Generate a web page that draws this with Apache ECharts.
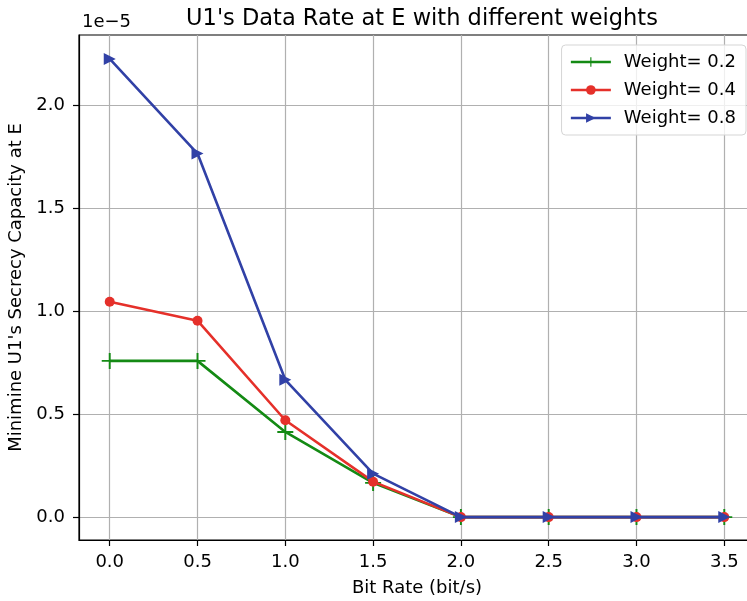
<!DOCTYPE html>
<html>
<head>
<meta charset="utf-8">
<script src="https://cdn.jsdelivr.net/npm/echarts@6/dist/echarts.min.js"></script>
<style>html,body{margin:0;padding:0;background:#fff;}#c{width:747px;height:601px;}</style>
</head>
<body>
<div id="c"></div>
<script>
// Data (y values in units of 1e-5)
const bitRates = [0.0, 0.5, 1.0, 1.5, 2.0, 2.5, 3.0, 3.5];
const weight02 = [0.758, 0.758, 0.413, 0.166, 0, 0, 0, 0];
const weight04 = [1.045, 0.953, 0.470, 0.172, 0, 0, 0, 0];
const weight08 = [2.223, 1.764, 0.666, 0.211, 0, 0, 0, 0];
const xTicks = [0.0, 0.5, 1.0, 1.5, 2.0, 2.5, 3.0, 3.5];
const yTicks = [0.0, 0.5, 1.0, 1.5, 2.0];
const seriesNames = ['Weight= 0.2', 'Weight= 0.4', 'Weight= 0.8'];

const FONT = 'DejaVu Sans';
const chart = echarts.init(document.getElementById('c'), null, {renderer: 'canvas'});
const pair = (ys) => bitRates.map((x, i) => [x, ys[i]]);
const plusPath = 'path://M0,4.4 H10 V5.6 H0 Z M4.4,0 H5.6 V10 H4.4 Z';

chart.setOption({
  animation: false,
  backgroundColor: '#fff',
  title: {
    text: "U1's Data Rate at E with different weights",
    left: 417, top: 3, textAlign: 'center',
    textStyle: {fontFamily: FONT, fontSize: 22.5, fontWeight: 'normal', color: '#000'}
  },
  graphic: [{
    type: 'text', left: 82, top: 13,
    style: {text: '1e\u22125', font: '18px "DejaVu Sans"', fill: '#000'}
  }],
  legend: {
    orient: 'vertical', right: 1, top: 45,
    data: seriesNames,
    itemWidth: 40, itemHeight: 12, itemGap: 10,
    padding: [8, 10, 8, 8],
    borderColor: '#d5d5d5', borderWidth: 1, borderRadius: 4,
    backgroundColor: 'rgba(255,255,255,0.8)',
    lineStyle: {width: 2.6},
    textStyle: {fontFamily: FONT, fontSize: 18, color: '#000', padding: [0, 0, 0, 8]}
  },
  grid: {left: 79, top: 35, width: 676, height: 505, containLabel: false, outerBoundsMode: 'none',
    show: true, borderColor: '#000', borderWidth: 1.2, backgroundColor: 'transparent'},
  xAxis: {
    type: 'value', min: -0.175, max: 3.675,
    name: 'Bit Rate (bit/s)', nameLocation: 'middle', nameGap: 39,
    nameTextStyle: {fontFamily: FONT, fontSize: 18, color: '#000'},
    axisLine: {show: true, onZero: false, lineStyle: {color: '#000', width: 1.2}},
    axisTick: {show: true, length: 6, lineStyle: {color: '#000', width: 1.2}, customValues: xTicks},
    axisLabel: {customValues: xTicks, margin: 13, fontFamily: FONT, fontSize: 18, color: '#000',
      formatter: v => v.toFixed(1)},
    splitLine: {show: true, lineStyle: {color: '#b0b0b0', width: 1.2}}
  },
  yAxis: {
    type: 'value', min: -0.111, max: 2.339,
    name: "Minimine U1's Secrecy Capacity at E", nameLocation: 'middle', nameGap: 53,
    nameTextStyle: {fontFamily: FONT, fontSize: 18, color: '#000'},
    axisLine: {show: true, onZero: false, lineStyle: {color: '#000', width: 1.2}},
    axisTick: {show: true, length: 6, lineStyle: {color: '#000', width: 1.2}, customValues: yTicks},
    axisLabel: {customValues: yTicks, margin: 14, fontFamily: FONT, fontSize: 18, color: '#000',
      formatter: v => v.toFixed(1)},
    splitLine: {show: true, lineStyle: {color: '#b0b0b0', width: 1.2}}
  },
  series: [
    {
      name: seriesNames[0], type: 'line', data: pair(weight02),
      symbol: plusPath, symbolSize: 16, showAllSymbol: true, z: 2,
      lineStyle: {color: '#148a14', width: 2.6},
      itemStyle: {color: '#148a14'}
    },
    {
      name: seriesNames[1], type: 'line', data: pair(weight04),
      symbol: 'circle', symbolSize: 10, showAllSymbol: true, z: 3,
      lineStyle: {color: '#e5302a', width: 2.6},
      itemStyle: {color: '#e5302a'}
    },
    {
      name: seriesNames[2], type: 'line', data: pair(weight08),
      symbol: 'triangle', symbolRotate: -90, symbolSize: 12, showAllSymbol: true, z: 4,
      lineStyle: {color: '#3141a6', width: 2.6},
      itemStyle: {color: '#3141a6'}
    }
  ]
});
</script>
</body>
</html>
